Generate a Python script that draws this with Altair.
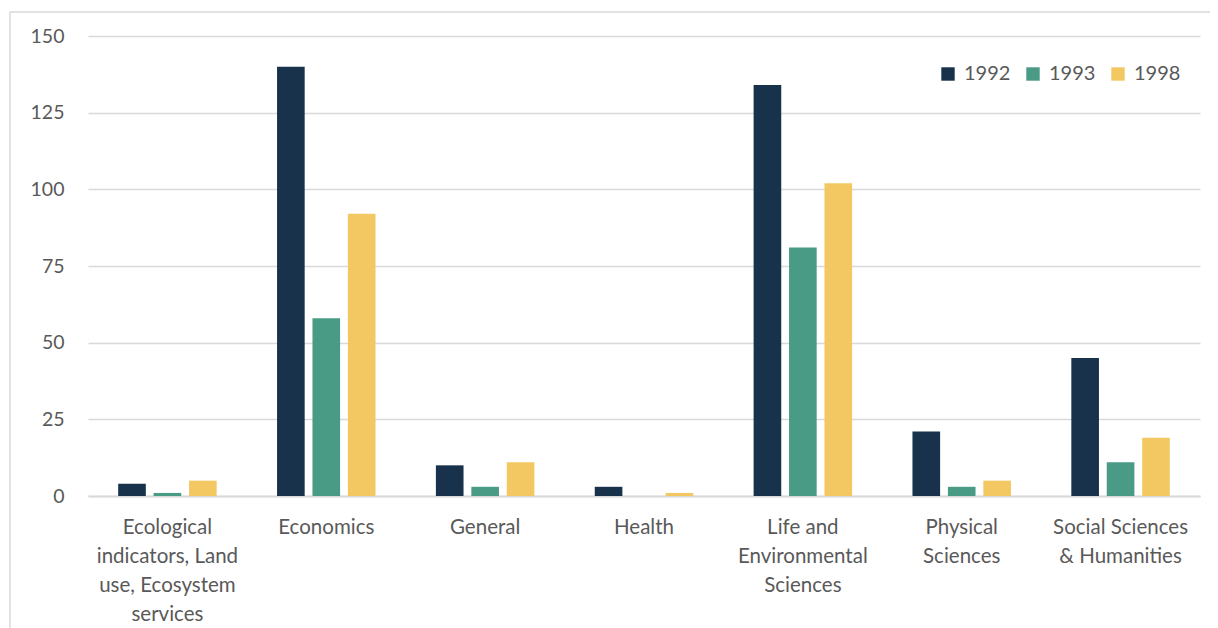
import altair as alt
import pandas as pd

categories = [
    "Ecological indicators, Land use, Ecosystem services",
    "Economics",
    "General",
    "Health",
    "Life and Environmental Sciences",
    "Physical Sciences",
    "Social Sciences & Humanities",
]
wrapped_labels = [
    "Ecological\nindicators, Land\nuse, Ecosystem\nservices",
    "Economics",
    "General",
    "Health",
    "Life and\nEnvironmental\nSciences",
    "Physical\nSciences",
    "Social Sciences\n& Humanities",
]
years = ["1992", "1993", "1998"]
values_1992 = [4, 140, 10, 3, 134, 21, 45]
values_1993 = [1, 58, 3, 0, 81, 3, 11]
values_1998 = [5, 92, 11, 1, 102, 5, 19]
colors = ["#17324A", "#4A9B85", "#F3C862"]

rows = []
for y, vals in zip(years, [values_1992, values_1993, values_1998]):
    for c, lab, v in zip(categories, wrapped_labels, vals):
        rows.append({"category": lab, "year": y, "value": v})
df = pd.DataFrame(rows)

FONT = "Lato"
TXT = "#595959"

bars = alt.Chart(df).mark_bar().encode(
    x=alt.X("category:N", sort=wrapped_labels, title=None,
            scale=alt.Scale(paddingInner=0.38, paddingOuter=0.19),
            axis=alt.Axis(labelAngle=0, labelExpr="split(datum.label, '\\n')",
                          labelFont=FONT, labelFontSize=20.5, labelColor=TXT,
                          labelLineHeight=29, labelPadding=21, ticks=False, grid=False,
                          domainColor="#d9d9d9", domainWidth=2, labelBaseline="top")),
    xOffset=alt.XOffset("year:N", sort=years, scale=alt.Scale(paddingInner=0.22, paddingOuter=0)),
    y=alt.Y("value:Q", title=None,
            scale=alt.Scale(domain=[0, 150], nice=False),
            axis=alt.Axis(values=[0, 25, 50, 75, 100, 125, 150], labelFont=FONT,
                          labelFontSize=19.5, labelColor=TXT, ticks=False, domain=False,
                          gridColor="#d9d9d9", gridWidth=1.3, labelPadding=24)),
    color=alt.Color("year:N", sort=years,
                    scale=alt.Scale(domain=years, range=colors),
                    legend=alt.Legend(title=None, orient="none", direction="horizontal",
                                      legendX=850, legendY=28, symbolType="square",
                                      symbolSize=180, symbolStrokeWidth=0,
                                      labelFont=FONT, labelFontSize=20, labelColor=TXT,
                                      columnPadding=12, labelOffset=6)),
)

border = alt.Chart(pd.DataFrame({"k": [0]})).mark_rect(
    fill=None, stroke="#d9d9d9", strokeWidth=1.5
).encode(
    x=alt.value(-78), x2=alt.value(1126), y=alt.value(-24), y2=alt.value(700)
)

chart = alt.layer(border, bars).properties(
    width=1112, height=460,
    background="white",
    padding={"left": 80, "top": 28, "right": 10, "bottom": 150},
    autosize=alt.AutoSizeParams(type="none"),
).configure_view(stroke=None, strokeWidth=0)

chart.save("out.html", embed_options={"renderer": "svg", "actions": False})
